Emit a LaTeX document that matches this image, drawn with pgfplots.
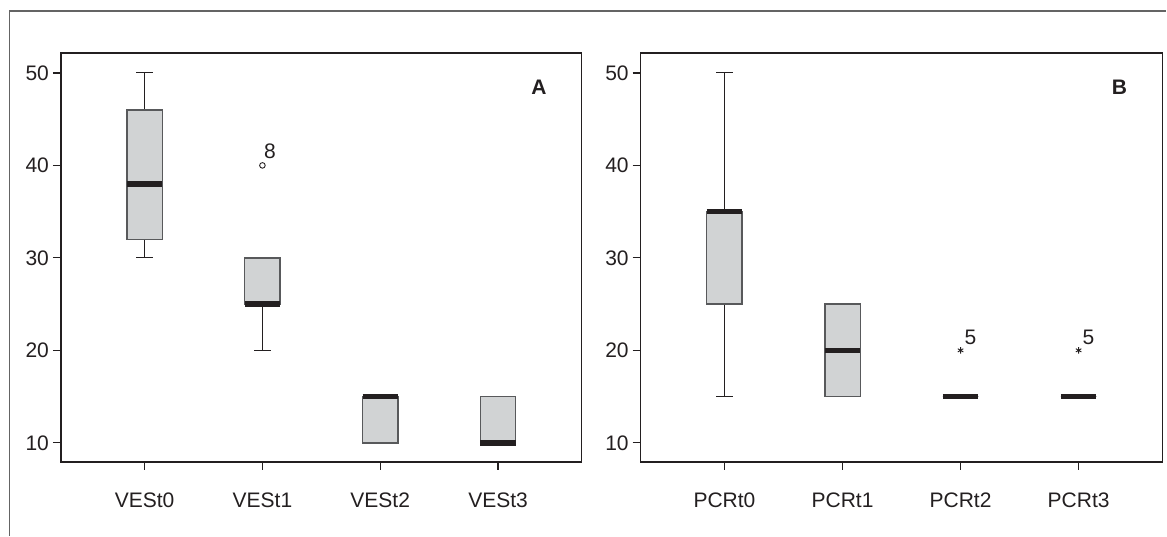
\documentclass[border=0pt]{standalone}
\usepackage{fontspec}
\setmainfont{Liberation Sans}
\usepackage{pgfplots}
\pgfplotsset{compat=1.18}
\definecolor{boxfill}{RGB}{209,211,212}
\definecolor{boxedge}{RGB}{88,89,91}
\definecolor{ink}{RGB}{35,31,32}
\definecolor{framegray}{RGB}{100,100,100}
\newcommand{\lbl}{\fontsize{10.5}{12}\selectfont}
\pgfplotsset{
  panel/.style={
    anchor=south west,
    scale only axis,
    width=260.5pt,
    height=204.5pt,
    xmin=0.29, xmax=4.71,
    ymin=7.95, ymax=52.16,
    xtick={1,2,3,4},
    ytick={10,20,30,40,50},
    tick pos=left,
    tick align=outside,
    major tick length=4pt,
    axis line style={ink, line width=0.75pt},
    tick style={ink, line width=0.6pt},
    ticklabel style={font=\lbl, text=ink},
    /pgf/number format/assume math mode=true,
    xticklabel style={yshift=-8pt},
    yticklabel style={xshift=1.5pt},
  },
  whisk/.style={ink, line width=0.55pt, mark=none},
  boxbody/.style={draw=boxedge, fill=boxfill, line width=0.7pt, line join=miter, mark=none},
  medline/.style={ink, line width=2.8pt, mark=none},
}
% \boxat{x}{lower whisker}{lower quartile}{median}{upper quartile}{upper whisker}
\newcommand{\boxat}[6]{%
  \pgfmathsetmacro\xl{#1-0.15}\pgfmathsetmacro\xr{#1+0.15}%
  \pgfmathsetmacro\cl{#1-0.07}\pgfmathsetmacro\cr{#1+0.07}%
  \addplot[whisk] coordinates {(#1,#2) (#1,#3)};
  \addplot[whisk] coordinates {(#1,#5) (#1,#6)};
  \addplot[whisk] coordinates {(\cl,#2) (\cr,#2)};
  \addplot[whisk] coordinates {(\cl,#6) (\cr,#6)};
  \addplot[boxbody] coordinates {(\xl,#3) (\xr,#3) (\xr,#5) (\xl,#5) (\xl,#3)} -- cycle;
  \addplot[medline] coordinates {(\xl,#4) (\xr,#4)};
}
\begin{document}
\begin{tikzpicture}
\path (0,0) rectangle (583.5pt,268pt);
\draw[framegray, line width=0.6pt] (4.75pt,0) -- (4.75pt,262.5pt) -- (583.5pt,262.5pt);

\begin{axis}[panel, at={(30.5pt,37pt)},
  xticklabels={VESt0,VESt1,VESt2,VESt3}]
\boxat{1}{30}{32}{38}{46}{50}
\boxat{2}{20}{25}{25}{30}{30}
\boxat{3}{10}{10}{15}{15}{15}
\boxat{4}{10}{10}{10}{15}{15}
\addplot[only marks, mark=o, mark size=1.4pt, mark options={draw=ink, fill=white, line width=0.45pt}] coordinates {(2,40)};
\node[anchor=base west, inner sep=0, font=\lbl, text=ink] at (axis cs:2.01,40.76) {8};
\node[font=\bfseries\lbl, text=ink] at (axis cs:4.347,48.5) {A};
\end{axis}

\begin{axis}[panel, at={(320.5pt,37pt)}, width=261pt,
  xticklabels={PCRt0,PCRt1,PCRt2,PCRt3}]
\boxat{1}{15}{25}{35}{35}{50}
\boxat{2}{15}{15}{20}{25}{25}
\boxat{3}{15}{15}{15}{15}{15}
\boxat{4}{15}{15}{15}{15}{15}
\addplot[only marks, mark=asterisk, mark size=1.6pt, mark options={draw=ink, line width=0.45pt}] coordinates {(3,20) (4,20)};
\node[anchor=base west, inner sep=0, font=\lbl, text=ink] at (axis cs:3.03,20.65) {5};
\node[anchor=base west, inner sep=0, font=\lbl, text=ink] at (axis cs:4.03,20.65) {5};
\node[font=\bfseries\lbl, text=ink] at (axis cs:4.347,48.5) {B};
\end{axis}
\end{tikzpicture}
\end{document}
